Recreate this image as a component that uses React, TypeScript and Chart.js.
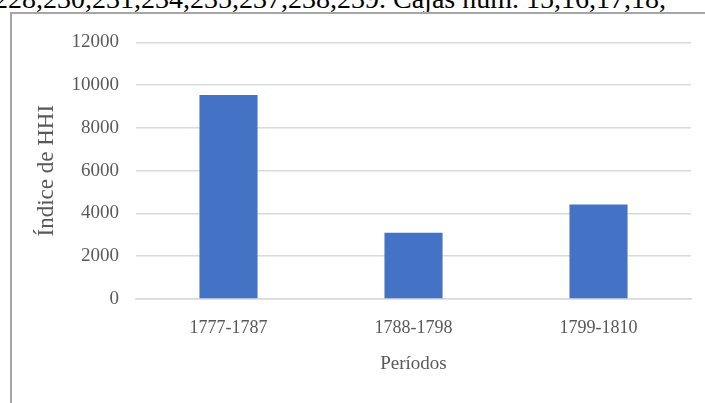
import React, { useEffect, useRef } from "react";
import { Chart, registerables } from "chart.js";

Chart.register(...registerables);

const categories = ["1777-1787", "1788-1798", "1799-1810"];
const hhiValues = [9540, 3100, 4420];
const yTickMin = 0;
const yTickMax = 12000;
const yTickStep = 2000;
const yTitle = "Índice de HHI";
const xTitle = "Períodos";
const headerText = "228,230,231,234,235,237,238,239. Cajas núm. 15,16,17,18,";

const FONT = "'Liberation Serif'";
const GRAY = "#595959";

export default function App() {
  const canvasRef = useRef<HTMLCanvasElement | null>(null);

  useEffect(() => {
    const canvas = canvasRef.current;
    if (!canvas) return;
    let chart: Chart | null = null;
    let cancelled = false;
    const build = () => {
      if (cancelled) return;
      chart = new Chart(canvas, {
        type: "bar",
        data: {
          labels: categories,
          datasets: [
            {
              data: hhiValues,
              backgroundColor: "#4472C4",
              borderWidth: 0,
              categoryPercentage: 1,
              barPercentage: 0.314,
            },
          ],
        },
        options: {
          responsive: false,
          animation: false,
          layout: { padding: { top: 27, right: 14, bottom: 14, left: 0 } },
          plugins: {
            legend: { display: false },
            tooltip: { enabled: false },
          },
          scales: {
            x: {
              grid: { display: false, drawTicks: false },
              border: { display: true, color: "#d9d9d9", width: 1.5 },
              ticks: {
                color: GRAY,
                padding: 18,
                font: { family: FONT, size: 18 },
              },
              title: {
                display: true,
                text: xTitle,
                color: GRAY,
                font: { family: FONT, size: 19 },
                padding: { top: 0, bottom: 14 },
              },
              afterFit: (scale: any) => {
                scale.height = 90;
              },
            },
            y: {
              min: yTickMin,
              max: yTickMax,
              grid: {
                color: "#d9d9d9",
                lineWidth: 1.5,
                drawTicks: false,
              },
              border: { display: false },
              ticks: {
                stepSize: yTickStep,
                color: GRAY,
                padding: 17,
                font: { family: FONT, size: 19 },
                callback: (v: any) => String(v),
              },
              title: {
                display: true,
                text: yTitle,
                color: GRAY,
                font: { family: FONT, size: 23 },
                padding: { top: 21, bottom: 0 },
              },
              afterFit: (scale: any) => {
                scale.width = 124;
              },
            },
          },
        },
      });
    };
    const fontsApi: any = (document as any).fonts;
    if (fontsApi && fontsApi.load) {
      Promise.all([
        fontsApi.load("18px 'Liberation Serif'"),
        fontsApi.load("23px 'Liberation Serif'"),
      ])
        .catch(() => null)
        .then(() => build());
    } else {
      build();
    }
    return () => {
      cancelled = true;
      if (chart) chart.destroy();
    };
  }, []);

  return (
    <div
      style={{
        position: "fixed",
        left: 0,
        top: 0,
        width: 705,
        height: 403,
        overflow: "hidden",
        background: "#ffffff",
      }}
    >
      <div
        style={{
          position: "absolute",
          left: -6,
          top: -15.5,
          fontFamily: "'Liberation Serif'",
          fontSize: 28,
          lineHeight: "28px",
          whiteSpace: "nowrap",
          color: "#000000",
        }}
      >
        {headerText}
      </div>
      <div
        style={{
          position: "absolute",
          left: 10,
          top: 12,
          width: 720,
          height: 420,
          border: "2px solid #a6a6a6",
          boxSizing: "border-box",
        }}
      />
      <canvas
        ref={canvasRef}
        width={693}
        height={389}
        style={{ position: "absolute", left: 12, top: 14, width: 693, height: 389 }}
      />
    </div>
  );
}
